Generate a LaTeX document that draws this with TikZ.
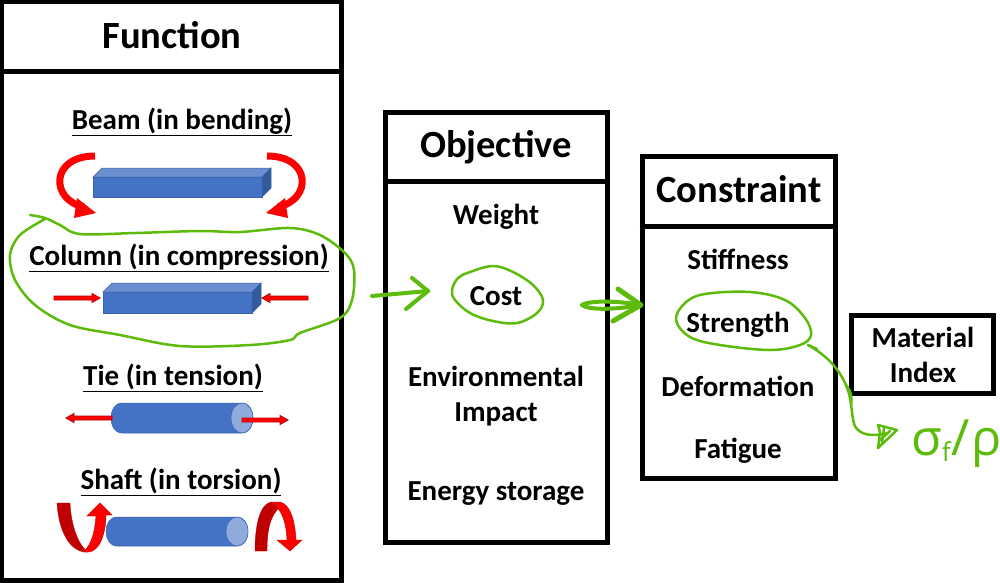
\documentclass[tikz,border=0pt]{standalone}
\usepackage{fontspec}
\setmainfont{Carlito}
\newfontfamily\formulafont{Open Sans}
\usetikzlibrary{calc}
\definecolor{hand}{HTML}{5DBB0B}
\definecolor{bluef}{HTML}{4472C4}
\definecolor{bluet}{HTML}{6A8FD0}
\definecolor{blues}{HTML}{335A9C}
\definecolor{bluee}{HTML}{8FAADC}
\definecolor{blueo}{HTML}{3A63AC}
\definecolor{darkred}{HTML}{C00000}
\tikzset{
 x=1pt,y=-1pt,
 frame/.style={draw=black,line width=5pt,fill=white,rectangle,inner sep=0pt},
 head/.style={font=\fontsize{38.5}{38.5}\selectfont\bfseries,text=black},
 lab/.style={font=\fontsize{29}{35}\selectfont\bfseries,text=black,align=center},
 ulab/.style={font=\fontsize{29}{34}\selectfont\bfseries,text=black},
 ink/.style={draw=hand,line width=2.5pt,line cap=round,line join=round},
 inkb/.style={draw=hand,line width=4pt,line cap=round,line join=round},
 redarrow/.style={fill=red,draw=darkred,line width=0.9pt,line join=miter},
 beamface/.style={draw=blueo,line width=0.5pt},
}
\newcommand{\smallbar}[3]{%
 \begin{scope}[shift={(#1,#2)},xscale=#3]
  \path[redarrow] (0,-2) -- (38,-2) -- (38,-4.5) -- (46,0) -- (38,4.5) -- (38,2) -- (0,2) -- cycle;
 \end{scope}}
\newcommand{\beamshape}[6]{%
 \path[fill=bluef,beamface] (#1,#3) rectangle (#2,#4);
 \path[fill=bluet,beamface] (#1,#3) -- ({#1+#5},{#3-#6}) -- ({#2+#5},{#3-#6}) -- (#2,#3) -- cycle;
 \path[fill=blues,beamface] (#2,#3) -- ({#2+#5},{#3-#6}) -- ({#2+#5},{#4-#6}) -- (#2,#4) -- cycle;}
\newcommand{\cylshape}[5]{%
 \path[fill=bluef,beamface] ({#1+#5},#3) -- (#2,#3) .. controls ({#2+#5*4/3},#3) and ({#2+#5*4/3},#4) .. (#2,#4) -- ({#1+#5},#4) .. controls ({#1-#5/3},#4) and ({#1-#5/3},#3) .. ({#1+#5},#3) -- cycle;
 \path[fill=bluee,beamface] (#2,{(#3+#4)/2}) ellipse[x radius=#5pt,y radius={(#4-#3)/2*1pt}];}
\begin{document}
\begin{tikzpicture}
\useasboundingbox (0,0) rectangle (1000,582);
\fill[white] (0,0) rectangle (1000,582);

% boxes
\node[frame,minimum width=339.5pt,minimum height=579pt] (funbox) at (171.25,290.5) {};
\draw[black,line width=5pt] (funbox.west |- 0,71) -- (funbox.east |- 0,71);
\node[frame,minimum width=222pt,minimum height=430pt] (objbox) at (496,327) {};
\draw[black,line width=5pt] (objbox.west |- 0,181) -- (objbox.east |- 0,181);
\node[frame,minimum width=193pt,minimum height=322pt] (conbox) at (738.5,317) {};
\draw[black,line width=5pt] (conbox.west |- 0,226) -- (conbox.east |- 0,226);
\node[frame,minimum width=142pt,minimum height=78pt] (matbox) at (922,354) {};

% titles
\node[head] (funt) at (172,35) {Function};
\node[head] (objt) at (496,147) {Objective};
\node[head] (cont) at (739,189) {Constraint};

% function labels
\node[ulab] (beam) at (182,122) {\underline{Beam (in bending)}};
\node[ulab] (column) at (179,258) {\underline{Column (in compression)}};
\node[ulab] (tie) at (173,378) {\underline{Tie (in tension)}};
\node[ulab] (shaft) at (181,482) {\underline{Shaft (in torsion)}};

% objective
\node[lab] (weight) at (496,217) {Weight};
\node[lab] (cost) at (496,296) {Cost};
\node[lab] (env) at (496,396) {Environmental\\Impact};
\node[lab] (energy) at (496,494) {Energy storage};

% constraint
\node[lab] (stiff) at (738,259) {Stiffness};
\node[lab] (strength) at (738,325) {Strength};
\node[lab] (deform) at (738,386) {Deformation};
\node[lab] (fatigue) at (738,451) {Fatigue};

\node[lab] (matidx) at (923,355) {Material\\Index};

% beam
\beamshape{93}{262}{177}{197}{9}{9}
\foreach \s/\o in {1/0,-1/362}{
 \begin{scope}[shift={(\o,0)},xscale=\s]
  \draw[red,line width=7pt] (95,156) .. controls (50,156) and (50,200) .. (84,207);
  \fill[red] (77,198) -- (96,213) -- (74,218) -- cycle;
 \end{scope}}

% column
\beamshape{103}{252}{292}{313}{9}{9}
\smallbar{54}{298}{1}
\smallbar{308}{298}{-1}

% tie
\cylshape{111}{242}{403}{433}{11}
\smallbar{112}{418}{-1}
\smallbar{242}{420}{1}

% shaft
\cylshape{106}{237}{517}{546}{11}
\path[fill=darkred,draw=darkred,line width=0.4pt] (57,503) -- (70,503) .. controls (71,525) and (78,545) .. (88,552) .. controls (72,553) and (59,535) .. cycle;
\path[fill=red,draw=darkred,line width=0.4pt] (83,552) .. controls (92,545) and (95,530) .. (96,516) -- (87,516) -- (100,503) -- (112,515) -- (106,515) .. controls (106,532) and (100,552) .. (88,552) -- cycle;
\path[fill=darkred,draw=darkred,line width=0.4pt] (255,551) -- (267,551) .. controls (267,530) and (270,515) .. (281,506) -- (272,502) .. controls (260,503) and (255,525) .. cycle;
\path[fill=red,draw=darkred,line width=0.4pt] (270,502) -- (280,502) .. controls (290,504) and (295,520) .. (296,540) -- (302,540) -- (290,551) -- (277,540) -- (287,540) .. controls (286,522) and (282,508) .. (270,502) -- cycle;

% hand-drawn loops
\draw[ink] plot[smooth,tension=0.55] coordinates {(30,215) (45,218) (60,225) (80,234) (135,233) (200,231) (240,232) (290,228) (320,235) (345,253) (354,270) (352,300) (340,318) (300,333) (290,340) (250,345) (180,346) (120,335) (70,325) (35,305) (15,280) (10,255) (20,235) (45,219)};
\draw[ink] plot[smooth cycle,tension=0.6] coordinates {(452,290) (458,278) (470,272) (493,266) (513,272) (533,285) (543,300) (537,313) (517,323) (493,321) (470,313) (455,300)};
\draw[ink] plot[smooth cycle,tension=0.6] coordinates {(676,320) (685,303) (705,294) (750,292) (785,300) (805,318) (811,335) (800,345) (770,350) (720,345) (690,337)};

% hand-drawn arrows
\coordinate (a1s) at (372,296); \coordinate (a1e) at (428,291);
\coordinate (a2s) at (582,305); \coordinate (a2e) at (641,305);
\coordinate (a3s) at (808,345); \coordinate (a3e) at (888,433);
\draw[inkb] (a1s) -- (a1e);
\draw[inkb] (412,278) -- (a1e) -- (406,309);
\draw[inkb] (a2s) .. controls (590,300) and (620,301) .. (a2e) .. controls (620,309) and (590,311) .. (a2s);
\draw[inkb,line width=5pt] (618,289) -- (a2e) -- (613,321);
\draw[ink] (a3s) .. controls (832,358) and (846,378) .. (850,398) .. controls (853,415) and (852,425) .. (858,430) .. controls (865,436) and (875,436) .. (a3e);
\draw[ink] (a3s) -- (817,349);
\draw[ink] (846,385) .. controls (852,392) and (852,400) .. (851,405);
\draw[ink] (878,425) -- (897,430) -- (878,448) -- (880,432) -- (878,425);
\draw[ink] (884,428) -- (882,443) (890,431) -- (880,440);

% handwritten formula
\node[text=hand,font=\formulafont\fontsize{50}{50}\selectfont,inner sep=0pt,anchor=base west] (formula) at (911,455) {σ\raisebox{-6pt}{\fontsize{26}{26}\selectfont f}\kern1pt/\kern1pt ρ};
\end{tikzpicture}
\end{document}
